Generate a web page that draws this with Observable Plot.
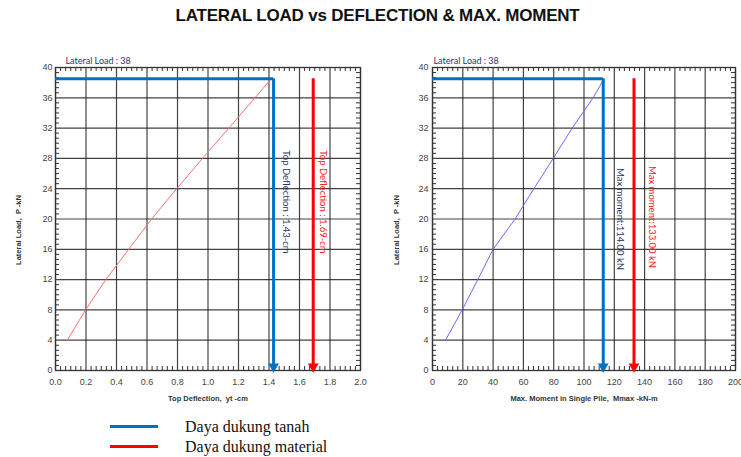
<!DOCTYPE html>
<html><head><meta charset="utf-8">
<script src="https://cdn.jsdelivr.net/npm/d3@7"></script>
<script src="https://cdn.jsdelivr.net/npm/@observablehq/plot@0.6"></script>
<style>
body{margin:0;background:#fff;}
#wrap{position:relative;width:741px;height:457px;overflow:hidden;background:#fff;}
#title{position:absolute;left:7px;top:6px;width:741px;text-align:center;font:bold 17px "Liberation Sans",Arial,sans-serif;letter-spacing:-0.2px;color:#111;}
#left{position:absolute;left:0;top:40px;}
#right{position:absolute;left:370px;top:40px;}
.lg{position:absolute;left:110px;width:48px;height:3px;}
.lt{position:absolute;left:185px;font:16px "Liberation Serif","Times New Roman",serif;color:#111;line-height:18px;}
</style></head>
<body><div id="wrap">
<div id="title"></div>
<div id="left"></div>
<div id="right"></div>
<div class="lg" id="lg1" style="top:425px;background:#0070c0"></div>
<div class="lg" id="lg2" style="top:445px;background:#ff0000"></div>
<div class="lt" id="lt1" style="top:418px"></div>
<div class="lt" id="lt2" style="top:438px"></div>
</div>
<script>
const title = "LATERAL LOAD vs DEFLECTION & MAX. MOMENT";
const legendLabels = ["Daya dukung tanah", "Daya dukung material"];
const lateralLoad = 38;
const loadLevel = 38.5;

// Left chart: Top deflection
const deflLoad = [4, 8, 12, 16, 20, 24, 28, 32, 36, 38.4];
const deflection = [0.077, 0.197, 0.33, 0.48, 0.63, 0.795, 0.964, 1.137, 1.308, 1.41];
const deflSoil = 1.43;   // Daya dukung tanah
const deflMat = 1.69;    // Daya dukung material
const deflXTicks = [0, 0.2, 0.4, 0.6, 0.8, 1.0, 1.2, 1.4, 1.6, 1.8, 2.0];

// Right chart: Max moment
const momLoad = [4, 8, 12, 16, 20, 24, 28, 32, 36, 38.3];
const moment = [8.6, 19.6, 29.9, 40, 54.5, 66.9, 79.7, 92.2, 106, 112.7];
const momSoilPos = 112.7, momSoilLabel = "114.00";
const momMatPos = 133, momMatLabel = "133.00";
const momXTicks = [0, 20, 40, 60, 80, 100, 120, 140, 160, 180, 200];

const yTicks = [0, 4, 8, 12, 16, 20, 24, 28, 32, 36, 40];
const yLabel = "Lateral Load,  P -kN";

document.getElementById("title").textContent = title;
document.getElementById("lt1").textContent = legendLabels[0];
document.getElementById("lt2").textContent = legendLabels[1];

const BLUE = "#0070c0", RED = "#ff0000", NAVY = "#1f3864";
const H = 370, MT = 27, MB = 40;
const FH = H - MT - MB;

function minorOf(ticks) {
  const out = [];
  for (let i = 0; i < ticks.length - 1; i++) {
    const a = ticks[i], b = ticks[i + 1];
    for (let k = 1; k < 6; k++) out.push(a + (b - a) * k / 6);
  }
  return out;
}

function chart(o) {
  const FW = o.width - o.ml - o.mr;
  const xMinor = minorOf(o.xTicks), yMinor = minorOf(yTicks);
  const pts = o.xs.map((x, i) => ({x, y: o.ys[i]}));
  const grid = {stroke: "#222", strokeOpacity: 0.85, strokeWidth: 1.2};
  const tk = {stroke: "#333", strokeWidth: 1};
  return Plot.plot({
    width: o.width, height: H,
    marginLeft: o.ml, marginRight: o.mr, marginTop: MT, marginBottom: MB,
    style: {background: "transparent", overflow: "visible", fontFamily: "'Liberation Sans', Arial, sans-serif"},
    x: {domain: [o.xTicks[0], o.xTicks[o.xTicks.length - 1]]},
    y: {domain: [0, 40]},
    marks: [
      Plot.gridX(o.xTicks, grid),
      Plot.gridY(yTicks, grid),
      Plot.tickX(xMinor, {x: d => d, insetTop: FH - 4, ...tk}),
      Plot.tickX(xMinor, {x: d => d, insetBottom: FH - 4, ...tk}),
      Plot.tickY(yMinor, {y: d => d, insetRight: FW - 4, ...tk}),
      Plot.tickY(yMinor, {y: d => d, insetLeft: FW - 4, ...tk}),
      Plot.frame({stroke: "#333", strokeWidth: 1.3}),
      Plot.axisX({ticks: o.xTicks, tickSize: 0, tickPadding: 8, fontSize: 9, fill: "#444", tickFormat: o.fmt, label: null}),
      Plot.axisY({ticks: yTicks, tickSize: 0, tickPadding: o.ypad, fontSize: 9, fill: "#444", label: null}),
      Plot.line(pts, {x: "x", y: "y", stroke: o.curve, strokeWidth: 1}),
      Plot.ruleY([loadLevel], {x1: o.xTicks[0], x2: o.soil, stroke: BLUE, strokeWidth: 3}),
      Plot.ruleX([o.soil], {y1: 0.6, y2: loadLevel, stroke: BLUE, strokeWidth: 3}),
      Plot.ruleX([o.mat], {y1: 0.6, y2: loadLevel, stroke: RED, strokeWidth: 3}),
      Plot.dot([o.soil], {x: d => d, frameAnchor: "bottom", dy: -4, symbol: "triangle", rotate: 180, r: 4, fill: BLUE}),
      Plot.dot([o.mat], {x: d => d, frameAnchor: "bottom", dy: -4, symbol: "triangle", rotate: 180, r: 4, fill: RED}),
      Plot.text([{v: o.soil, t: o.soilText}], {x: "v", text: "t", frameAnchor: "middle", textAnchor: "middle", rotate: 90, dx: o.sdx, dy: o.sdy, fill: NAVY, fontSize: 9.5, fontFamily: "Lato"}),
      Plot.text([{v: o.mat, t: o.matText}], {x: "v", text: "t", frameAnchor: "middle", textAnchor: "middle", rotate: 90, dx: o.mdx, dy: o.mdy, fill: "#ff2020", fontSize: 9.5, fontFamily: "Lato"}),
      Plot.text([`Lateral Load : ${lateralLoad}`], {frameAnchor: "top-left", textAnchor: "start", dx: o.ldx, dy: -10, fill: NAVY, fontSize: 9, fontFamily: "Lato"}),
      Plot.text([o.xLabel], {frameAnchor: "bottom", textAnchor: "middle", dy: 30, fontWeight: "bold", fontSize: 7.5, fill: "#333"}),
      Plot.text([yLabel], {frameAnchor: "left", textAnchor: "middle", dx: o.ydx, dy: 11, rotate: -90, fontWeight: "bold", fontSize: 7.5, fill: "#333"})
    ]
  });
}

document.getElementById("left").append(chart({
  width: 370, ml: 55, mr: 10, xTicks: deflXTicks, fmt: d3.format(".1f"),
  xs: deflection, ys: deflLoad, curve: "#ff7070",
  soil: deflSoil, mat: deflMat,
  soilText: `Top Deflection : ${deflSoil.toFixed(2)}-cm`, matText: `Top Deflection : ${deflMat.toFixed(2)}-cm`,
  sdx: 12, sdy: -17, mdx: 10, mdy: -17, ldx: 10, ypad: 3, ydx: -37,
  xLabel: "Top Deflection,  yt -cm"
}));
document.getElementById("right").append(chart({
  width: 371, ml: 62, mr: 6, xTicks: momXTicks, fmt: d3.format("d"),
  xs: moment, ys: momLoad, curve: "#6a6aff",
  soil: momSoilPos, mat: momMatPos,
  soilText: `Max moment:${momSoilLabel} kN`, matText: `Max moment:${momMatLabel} kN`,
  sdx: 17, sdy: 0, mdx: 18, mdy: -2, ldx: 1, ypad: 4, ydx: -36,
  xLabel: "Max. Moment in Single Pile,  Mmax -kN-m"
}));
</script>
</body></html>
